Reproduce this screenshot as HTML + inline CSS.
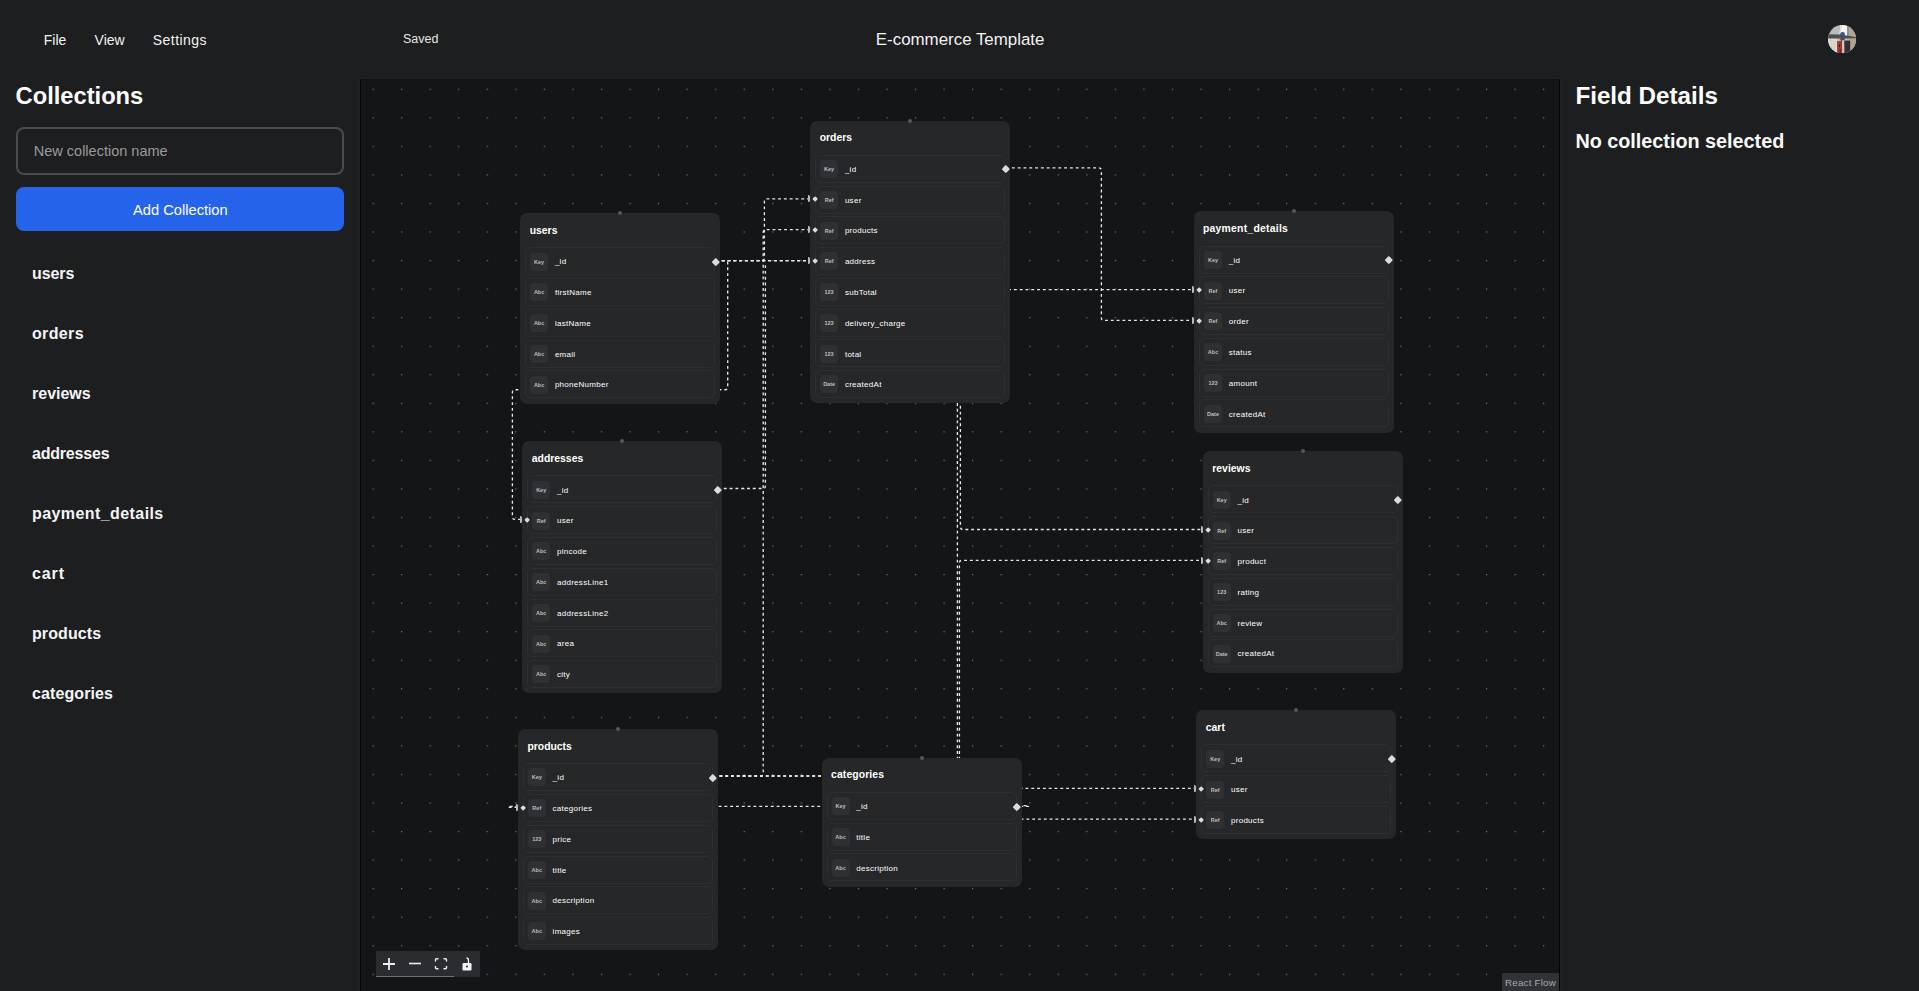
<!DOCTYPE html>
<html><head><meta charset="utf-8"><style>
*{box-sizing:border-box;margin:0;padding:0}
html,body{width:1919px;height:991px;overflow:hidden;background:#1d1e20;font-family:"Liberation Sans", sans-serif;color:#fff}
.abs{position:absolute;white-space:nowrap;line-height:1}
.menu{font-size:14px;top:32.7px;color:#f2f2f2}
.side-item{position:absolute;left:32px;font-size:16px;font-weight:bold;line-height:1;color:#f5f5f5}
#canvas{position:absolute;left:360px;top:79px;width:1200px;height:912px;background:#141516;overflow:hidden;border-left:1px solid #040405;border-right:1px solid #040405;border-top:1px solid #101113;box-shadow:0 0 0 1px #202124}
#flow{position:absolute;left:-361px;top:-80px;width:1919px;height:991px}
.node{position:absolute;width:200px;background:#262729;border-radius:7px}
.nt{position:absolute;left:9.6px;top:12.8px;font-size:10.4px;font-weight:bold;line-height:1;color:#fff;white-space:nowrap}
.row{position:absolute;left:5px;width:190px;height:28px;border:1px solid #2e2f32;border-radius:5px;background:#262729}
.ic{position:absolute;left:4px;top:4.3px;width:18px;height:18px;border-radius:4px;background:#2f3033;font-size:5.5px;line-height:18px;text-align:center;color:#bdbdbd;font-weight:bold}
.fn{position:absolute;left:28.8px;top:10.1px;font-size:8px;letter-spacing:.28px;line-height:1;color:#fff;white-space:nowrap}
.th{position:absolute;width:4px;height:4px;border-radius:50%;background:#56575a}
.sh{position:absolute;width:5.6px;height:5.6px;background:#dcdcdc;transform:rotate(45deg);border-radius:1px}
.tgh{position:absolute;width:4.3px;height:4.3px;background:#dcdcdc;transform:rotate(45deg);border-radius:.8px}
.mk{position:absolute;width:2px;height:7px;background:#b4babf;border-radius:0 1.5px 1.5px 0}
svg.edges path{fill:none;stroke:#e6e6e6;stroke-width:1.35;stroke-dasharray:2.9 2.9}
</style></head><body>
<div class="abs menu" style="left:43.8px">File</div>
<div class="abs menu" style="left:94.6px">View</div>
<div class="abs menu" style="left:152.8px;letter-spacing:.45px">Settings</div>
<div class="abs" style="left:403px;top:33.4px;font-size:12.5px;color:#e6e6e6">Saved</div>
<div class="abs" style="left:875.8px;top:31.6px;font-size:16.9px;color:#f2f2f2">E-commerce Template</div>
<svg style="position:absolute;left:1827.9px;top:24.7px" width="28.2" height="28.4" viewBox="0 0 28.2 28.4">
<defs><clipPath id="av"><ellipse cx="14.1" cy="14.2" rx="14.1" ry="14.2"/></clipPath></defs>
<g clip-path="url(#av)">
<rect width="28.2" height="28.4" fill="#bdbbb9"/>
<rect x="12.2" y="0" width="7" height="12" fill="#f3f3f3"/>
<path d="M13.4,0 L14.3,0 L11.3,10.5 L10.3,10.5Z" fill="#d4dbe2"/>
<rect x="19" y="0" width="2.4" height="12.5" fill="#8f9092"/>
<rect x="21.4" y="0" width="6.8" height="26" fill="#b3a493"/>
<rect x="0" y="13.2" width="9.3" height="15.2" fill="#d9d9dc"/>
<g fill="#e3c47e"><rect x="2" y="15" width="1.3" height="1.2"/><rect x="4.6" y="15.6" width="1.3" height="1.2"/><rect x="2.4" y="18" width="1.3" height="1.2"/><rect x="5" y="19" width="1.3" height="1.2"/><rect x="3" y="21.5" width="1.3" height="1.2"/><rect x="5.6" y="22.4" width="1.3" height="1.2"/><rect x="7.2" y="17" width="1.2" height="1.2"/></g>
<path d="M0,9.3 L12,9.6 L28.2,12.1 L28.2,13.6 L0,13.5Z" fill="#4f5052"/>
<rect x="22.1" y="13.6" width="6.1" height="11" fill="#b2a391"/>
<rect x="12.3" y="8.6" width="4.4" height="7.5" rx="1.5" fill="#4b4f53"/>
<path d="M12.2,9.4 Q12.4,7.2 14.6,7.1 Q16.9,7.2 17,9.4Z" fill="#2b55a8"/>
<rect x="9.1" y="16.1" width="5.2" height="12.3" fill="#a23a2a"/>
<rect x="10.8" y="19.5" width="1.2" height="2.5" fill="#3a2a28"/>
<rect x="11.6" y="24" width="1.2" height="4" fill="#3a2a28"/>
<rect x="14.2" y="15.2" width="2.2" height="13.2" fill="#c9cbce"/>
<rect x="16.4" y="15.6" width="5.8" height="12.8" fill="#2f3032"/>
<rect x="16.2" y="17.5" width="1" height="2.5" fill="#a23a2a"/>
</g></svg>

<div class="abs" style="left:15.6px;top:85.4px;font-size:23.7px;font-weight:bold;color:#fff">Collections</div>
<div style="position:absolute;left:16px;top:127px;width:328px;height:48px;border:2px solid #4a4b4e;border-radius:8px"></div>
<div class="abs" style="left:33.8px;top:144.2px;font-size:14.5px;color:#9a9a9c">New collection name</div>
<div style="position:absolute;left:16px;top:187px;width:328px;height:44px;background:#2563eb;border-radius:8px"></div>
<div class="abs" style="left:133px;top:202.9px;font-size:14.7px;color:#fff">Add Collection</div>
<div class="side-item" style="top:265.76px;letter-spacing:-0.1px">users</div>
<div class="side-item" style="top:325.76px;letter-spacing:0.35px">orders</div>
<div class="side-item" style="top:385.76px;letter-spacing:0px">reviews</div>
<div class="side-item" style="top:445.76px;letter-spacing:-0.2px">addresses</div>
<div class="side-item" style="top:505.76px;letter-spacing:0.42px">payment_details</div>
<div class="side-item" style="top:565.76px;letter-spacing:0.9px">cart</div>
<div class="side-item" style="top:625.76px;letter-spacing:0.1px">products</div>
<div class="side-item" style="top:685.76px;letter-spacing:0.1px">categories</div>

<div id="canvas">
<svg style="position:absolute;left:0;top:0" width="1200" height="912">
<defs><pattern id="dots" x="11.5" y="8.65" width="28.55" height="28.55" patternUnits="userSpaceOnUse"><rect x="0" y="0" width="1.2" height="1.2" fill="#76787a"/></pattern></defs>
<rect x="0" y="0" width="1200" height="912" fill="url(#dots)"/>
</svg>
<div id="flow">
<svg class="edges" style="position:absolute;left:0;top:0" width="1919" height="991"><path d="M1006.1,167.8 L1098.9,167.8 Q1101.4,167.8 1101.4,170.3 L1101.4,317.9 Q1101.4,320.4 1103.9,320.4 L1193,320.4"/><path d="M716,260.6 L954.9,260.6 Q957.4,260.6 957.4,263.1 L957.4,287.1 Q957.4,289.6 959.9,289.6 L1193,289.6"/><path d="M716,260.6 L761.9,260.6 Q764.4,260.6 764.4,258.1 L764.4,201.3 Q764.4,198.8 766.9,198.8 L808.5,198.8"/><path d="M718,488.5 L762.9,488.5 Q765.4,488.5 765.4,486 L765.4,262.5"/><path d="M713.6,776 L760.7,776 Q763.2,776 763.2,773.5 L763.2,232.1 Q763.2,229.6 765.7,229.6 L808.5,229.6"/><path d="M716,260.6 L725.2,260.6 Q727.7,260.6 727.7,263.1 L727.7,387.2 Q727.7,389.7 725.2,389.7 L514.9,389.7 Q512.4,389.7 512.4,392.2 L512.4,516.9 Q512.4,519.4 514.9,519.4 L520.5,519.4"/><path d="M716,260.6 L957.9,260.6 Q960.4,260.6 960.4,263.1 L960.4,527 Q960.4,529.5 962.9,529.5 L1201.5,529.5"/><path d="M713.6,776 L956.9,776 Q959.4,776 959.4,773.5 L959.4,562.9 Q959.4,560.4 961.9,560.4 L1201.5,560.4"/><path d="M716,260.6 L954.9,260.6 Q957.4,260.6 957.4,263.1 L957.4,785.9 Q957.4,788.4 959.9,788.4 L1194.5,788.4"/><path d="M713.6,776 L953.5,776 Q956,776 956,778.5 L956,816.6 Q956,819.1 958.5,819.1 L1194.5,819.1"/><path d="M1017.8,805.6 L1028.6,805.6 Q1029,805.6 1029,806 L1029,806 Q1029,806.4 1028.6,806.4 L508.4,806.4 Q508,806.4 508,806.8 L508,806.8 Q508,807.2 508.4,807.2 L516.5,807.2"/></svg>
<div class="node" style="left:810.1px;top:120.6px;height:282.79px"><div class="nt" style="">orders</div><div class="row" style="top:34.2px"><div class="ic">Key</div><div class="fn">_id</div></div><div class="row" style="top:64.97px"><div class="ic">Ref</div><div class="fn">user</div></div><div class="row" style="top:95.74px"><div class="ic">Ref</div><div class="fn">products</div></div><div class="row" style="top:126.51px"><div class="ic">Ref</div><div class="fn">address</div></div><div class="row" style="top:157.28px"><div class="ic">123</div><div class="fn">subTotal</div></div><div class="row" style="top:188.05px"><div class="ic">123</div><div class="fn">delivery_charge</div></div><div class="row" style="top:218.82px"><div class="ic">123</div><div class="fn">total</div></div><div class="row" style="top:249.59px"><div class="ic">Date</div><div class="fn">createdAt</div></div></div><div class="node" style="left:520.1px;top:213.1px;height:190.48px"><div class="nt" style="">users</div><div class="row" style="top:34.2px"><div class="ic">Key</div><div class="fn">_id</div></div><div class="row" style="top:64.97px"><div class="ic">Abc</div><div class="fn">firstName</div></div><div class="row" style="top:95.74px"><div class="ic">Abc</div><div class="fn">lastName</div></div><div class="row" style="top:126.51px"><div class="ic">Abc</div><div class="fn">email</div></div><div class="row" style="top:157.28px"><div class="ic">Abc</div><div class="fn">phoneNumber</div></div></div><div class="node" style="left:1194px;top:211.4px;height:221.25px"><div class="nt" style="letter-spacing:.25px;left:8.9px">payment_details</div><div class="row" style="top:34.2px"><div class="ic">Key</div><div class="fn">_id</div></div><div class="row" style="top:64.97px"><div class="ic">Ref</div><div class="fn">user</div></div><div class="row" style="top:95.74px"><div class="ic">Ref</div><div class="fn">order</div></div><div class="row" style="top:126.51px"><div class="ic">Abc</div><div class="fn">status</div></div><div class="row" style="top:157.28px"><div class="ic">123</div><div class="fn">amount</div></div><div class="row" style="top:188.05px"><div class="ic">Date</div><div class="fn">createdAt</div></div></div><div class="node" style="left:522.2px;top:441.3px;height:252.02px"><div class="nt" style="">addresses</div><div class="row" style="top:34.2px"><div class="ic">Key</div><div class="fn">_id</div></div><div class="row" style="top:64.97px"><div class="ic">Ref</div><div class="fn">user</div></div><div class="row" style="top:95.74px"><div class="ic">Abc</div><div class="fn">pincode</div></div><div class="row" style="top:126.51px"><div class="ic">Abc</div><div class="fn">addressLine1</div></div><div class="row" style="top:157.28px"><div class="ic">Abc</div><div class="fn">addressLine2</div></div><div class="row" style="top:188.05px"><div class="ic">Abc</div><div class="fn">area</div></div><div class="row" style="top:218.82px"><div class="ic">Abc</div><div class="fn">city</div></div></div><div class="node" style="left:1202.7px;top:451.3px;height:221.25px"><div class="nt" style="">reviews</div><div class="row" style="top:34.2px"><div class="ic">Key</div><div class="fn">_id</div></div><div class="row" style="top:64.97px"><div class="ic">Ref</div><div class="fn">user</div></div><div class="row" style="top:95.74px"><div class="ic">Ref</div><div class="fn">product</div></div><div class="row" style="top:126.51px"><div class="ic">123</div><div class="fn">rating</div></div><div class="row" style="top:157.28px"><div class="ic">Abc</div><div class="fn">review</div></div><div class="row" style="top:188.05px"><div class="ic">Date</div><div class="fn">createdAt</div></div></div><div class="node" style="left:517.8px;top:729px;height:221.25px"><div class="nt" style="">products</div><div class="row" style="top:34.2px"><div class="ic">Key</div><div class="fn">_id</div></div><div class="row" style="top:64.97px"><div class="ic">Ref</div><div class="fn">categories</div></div><div class="row" style="top:95.74px"><div class="ic">123</div><div class="fn">price</div></div><div class="row" style="top:126.51px"><div class="ic">Abc</div><div class="fn">title</div></div><div class="row" style="top:157.28px"><div class="ic">Abc</div><div class="fn">description</div></div><div class="row" style="top:188.05px"><div class="ic">Abc</div><div class="fn">images</div></div></div><div class="node" style="left:821.5px;top:757.7px;height:128.94px"><div class="nt" style="letter-spacing:.1px">categories</div><div class="row" style="top:34.2px"><div class="ic">Key</div><div class="fn">_id</div></div><div class="row" style="top:64.97px"><div class="ic">Abc</div><div class="fn">title</div></div><div class="row" style="top:95.74px"><div class="ic">Abc</div><div class="fn">description</div></div></div><div class="node" style="left:1196.2px;top:710.3px;height:128.94px"><div class="nt" style="">cart</div><div class="row" style="top:34.2px"><div class="ic">Key</div><div class="fn">_id</div></div><div class="row" style="top:64.97px"><div class="ic">Ref</div><div class="fn">user</div></div><div class="row" style="top:95.74px"><div class="ic">Ref</div><div class="fn">products</div></div></div>
<div class="th" style="left:908.1px;top:118.6px"></div><div class="sh" style="left:1002.5px;top:166.4px"></div><div class="tgh" style="left:812.95px;top:197.42px"></div><div class="mk" style="left:808px;top:195.27px"></div><div class="tgh" style="left:812.95px;top:228.19px"></div><div class="mk" style="left:808px;top:226.04px"></div><div class="tgh" style="left:812.95px;top:258.96px"></div><div class="mk" style="left:808px;top:256.81px"></div><div class="th" style="left:618.1px;top:211.1px"></div><div class="sh" style="left:712.5px;top:258.9px"></div><div class="th" style="left:1292px;top:209.4px"></div><div class="sh" style="left:1386.4px;top:257.2px"></div><div class="tgh" style="left:1196.85px;top:288.22px"></div><div class="mk" style="left:1191.9px;top:286.07px"></div><div class="tgh" style="left:1196.85px;top:318.99px"></div><div class="mk" style="left:1191.9px;top:316.84px"></div><div class="th" style="left:620.2px;top:439.3px"></div><div class="sh" style="left:714.6px;top:487.1px"></div><div class="tgh" style="left:525.05px;top:518.12px"></div><div class="mk" style="left:520.1px;top:515.97px"></div><div class="th" style="left:1300.7px;top:449.3px"></div><div class="sh" style="left:1395.1px;top:497.1px"></div><div class="tgh" style="left:1205.55px;top:528.12px"></div><div class="mk" style="left:1200.6px;top:525.97px"></div><div class="tgh" style="left:1205.55px;top:558.89px"></div><div class="mk" style="left:1200.6px;top:556.74px"></div><div class="th" style="left:615.8px;top:727px"></div><div class="sh" style="left:710.2px;top:774.8px"></div><div class="tgh" style="left:520.65px;top:805.82px"></div><div class="mk" style="left:515.7px;top:803.67px"></div><div class="th" style="left:919.5px;top:755.7px"></div><div class="sh" style="left:1013.9px;top:803.5px"></div><div class="th" style="left:1294.2px;top:708.3px"></div><div class="sh" style="left:1388.6px;top:756.1px"></div><div class="tgh" style="left:1199.05px;top:787.12px"></div><div class="mk" style="left:1194.1px;top:784.97px"></div><div class="tgh" style="left:1199.05px;top:817.89px"></div><div class="mk" style="left:1194.1px;top:815.74px"></div>
</div>
<div style="position:absolute;left:15px;top:871px;width:104px;height:26px;background:#2b2c2f">
<div style="position:absolute;left:0;bottom:0;width:78px;height:1px;background:#6e6f72"></div>
<svg style="position:absolute;left:0;top:0" width="104" height="26" fill="none" stroke="#e8eef2">
<path d="M13,7 V19 M7,13 H19" stroke-width="1.8"/>
<path d="M33,12.5 H45" stroke-width="1.6"/>
<path d="M59.5,10.5 V8.7 Q59.5,7.7 60.5,7.7 H62.5 M67.5,7.7 H69.5 Q70.5,7.7 70.5,8.7 V10.5 M70.5,15 V16.8 Q70.5,17.8 69.5,17.8 H67.5 M62.5,17.8 H60.5 Q59.5,17.8 59.5,16.8 V15" stroke-width="1.4"/>
<rect x="86.5" y="12" width="9" height="7.5" rx="1.2" fill="#f2f5f7" stroke="none"/>
<path d="M92.5,12 V9.5 Q92.5,7 90.5,7" stroke-width="1.3"/>
<circle cx="91" cy="15.5" r=".9" fill="#111" stroke="none"/>
</svg>
</div>
<div style="position:absolute;left:1140.8px;top:893px;width:58px;height:18px;background:#313235;font-size:9.8px;line-height:19.6px;color:#a8a9ab;padding-left:3.2px;letter-spacing:.2px">React Flow</div>
</div>

<div class="abs" style="left:1575.4px;top:84.2px;font-size:24.2px;font-weight:bold;color:#fff">Field Details</div>
<div class="abs" style="left:1575.4px;top:131.8px;font-size:19.8px;font-weight:bold;color:#fafafa">No collection selected</div>
</body></html>
